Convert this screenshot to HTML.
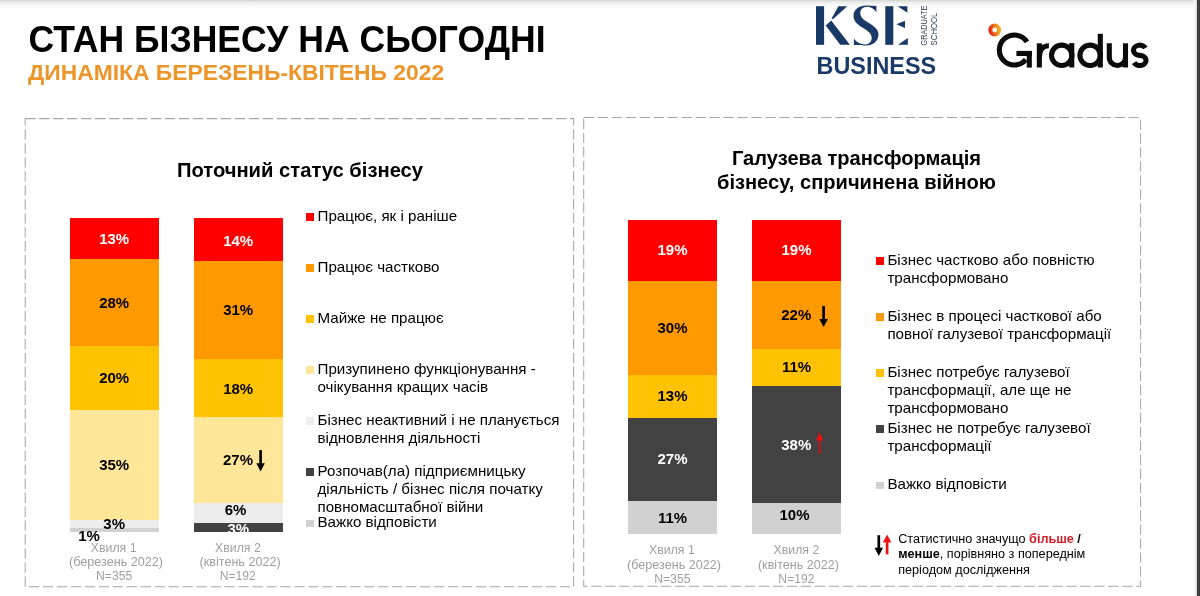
<!DOCTYPE html>
<html lang="uk"><head><meta charset="utf-8"><title>Стан бізнесу</title>
<style>
html,body{margin:0;padding:0;background:#fff}
body{width:1200px;height:596px;position:relative;overflow:hidden;font-family:"Liberation Sans", sans-serif}
#pg{position:absolute;left:0;top:0;width:1200px;height:596px;overflow:hidden;background:#fff;filter:blur(0.32px)}
.t{position:absolute;white-space:nowrap;margin:0;padding:0}
.r{position:absolute}
</style></head><body><div id="pg">
<div class="r" style="left:0;top:0;width:1200px;height:9px;background:linear-gradient(#d4d4d4 0,#e6e6e6 18%,#f3f3f3 40%,#fbfbfb 70%,#fff 100%)"></div>
<div class="r" style="left:1194px;top:0;width:3.4px;height:596px;background:linear-gradient(90deg,#fff,#d9d9d9)"></div>
<div class="r" style="left:1197.3px;top:0;width:2.7px;height:596px;background:#3b3f3f"></div>
<div class="t" style="left:28.50px;top:20px;font-size:35.55px;line-height:40px;font-weight:bold;color:#000;transform:scaleY(1.04);transform-origin:50% 32px;">СТАН БІЗНЕСУ НА СЬОГОДНІ</div>
<div class="t" style="left:28.00px;top:59px;font-size:22.85px;line-height:26px;font-weight:bold;color:#ec962a;">ДИНАМІКА БЕРЕЗЕНЬ-КВІТЕНЬ 2022</div>
<svg class="r" style="left:0;top:0" width="1200" height="596"><rect x="25.2" y="118.6" width="548.4" height="468.1" fill="none" stroke="#a6a6a6" stroke-width="1.05" stroke-dasharray="10.3 3.672"/></svg>
<svg class="r" style="left:0;top:0" width="1200" height="596"><rect x="583.7" y="117.4" width="556.8999999999999" height="468.9" fill="none" stroke="#a6a6a6" stroke-width="1.05" stroke-dasharray="10.3 3.672"/></svg>
<div class="t" style="left:0.00px;width:600px;text-align:center;top:159px;font-size:20.2px;line-height:22px;font-weight:bold;color:#000;">Поточний статус бізнесу</div>
<div class="r" style="left:70.00px;top:218.00px;width:88.60px;height:314.40px;background:#ff0000"></div>
<div class="r" style="left:70.00px;top:258.80px;width:88.60px;height:273.60px;background:#ff9900"></div>
<div class="r" style="left:70.00px;top:346.00px;width:88.60px;height:186.40px;background:#ffc304"></div>
<div class="r" style="left:70.00px;top:410.30px;width:88.60px;height:122.10px;background:#ffe699"></div>
<div class="r" style="left:70.00px;top:520.10px;width:88.60px;height:12.30px;background:#ededed"></div>
<div class="r" style="left:70.00px;top:528.20px;width:88.60px;height:4.20px;background:#d0d1d0"></div>
<div class="r" style="left:194.00px;top:218.00px;width:88.50px;height:314.00px;background:#ff0000"></div>
<div class="r" style="left:194.00px;top:260.70px;width:88.50px;height:271.30px;background:#ff9900"></div>
<div class="r" style="left:194.00px;top:358.50px;width:88.50px;height:173.50px;background:#ffc304"></div>
<div class="r" style="left:194.00px;top:416.60px;width:88.50px;height:115.40px;background:#ffe699"></div>
<div class="r" style="left:194.00px;top:503.00px;width:88.50px;height:29.00px;background:#ededed"></div>
<div class="r" style="left:194.00px;top:523.10px;width:88.50px;height:8.90px;background:#424242"></div>
<div class="t" style="left:-185.80px;width:600px;text-align:center;top:230px;font-size:15.0px;line-height:17px;font-weight:bold;color:#fff;">13%</div>
<div class="t" style="left:-185.80px;width:600px;text-align:center;top:294px;font-size:15.0px;line-height:17px;font-weight:bold;color:#000;">28%</div>
<div class="t" style="left:-185.80px;width:600px;text-align:center;top:369px;font-size:15.0px;line-height:17px;font-weight:bold;color:#000;">20%</div>
<div class="t" style="left:-185.80px;width:600px;text-align:center;top:456px;font-size:15.0px;line-height:17px;font-weight:bold;color:#000;">35%</div>
<div class="t" style="left:-185.80px;width:600px;text-align:center;top:515px;font-size:15.0px;line-height:17px;font-weight:bold;color:#000;">3%</div>
<div class="t" style="left:-211.00px;width:600px;text-align:center;top:527px;font-size:15.0px;line-height:17px;font-weight:bold;color:#000;">1%</div>
<div class="t" style="left:-61.80px;width:600px;text-align:center;top:232px;font-size:15.0px;line-height:17px;font-weight:bold;color:#fff;">14%</div>
<div class="t" style="left:-61.80px;width:600px;text-align:center;top:301px;font-size:15.0px;line-height:17px;font-weight:bold;color:#000;">31%</div>
<div class="t" style="left:-61.80px;width:600px;text-align:center;top:380px;font-size:15.0px;line-height:17px;font-weight:bold;color:#000;">18%</div>
<div class="t" style="left:-62.00px;width:600px;text-align:center;top:451px;font-size:15.0px;line-height:17px;font-weight:bold;color:#000;">27%</div>
<div class="t" style="left:-64.50px;width:600px;text-align:center;top:501px;font-size:15.0px;line-height:17px;font-weight:bold;color:#000;">6%</div>
<div class="r" style="left:194.0px;top:523.1px;width:88.5px;height:8.9px;overflow:hidden"><div class="t" style="left:0;width:88.5px;text-align:center;top:-3.10px;font-size:15.0px;line-height:17px;font-weight:bold;color:#fff">3%</div></div>
<svg class="r" style="left:0;top:0" width="1200" height="596"><path d="M259.25,450.1 H261.95000000000005 V463.8 H259.25 Z" fill="#000"/><path d="M264.90000000000003,463.3 L260.6,471.5 L256.3,463.3 Z" fill="#000"/></svg>
<div class="t" style="left:-186.30px;width:600px;text-align:center;top:541px;font-size:12.3px;line-height:14px;font-weight:normal;color:#9f9f9f;">Хвиля 1</div>
<div class="t" style="left:-184.00px;width:600px;text-align:center;top:555px;font-size:12.62px;line-height:14px;font-weight:normal;color:#9f9f9f;">(березень 2022)</div>
<div class="t" style="left:-185.90px;width:600px;text-align:center;top:569px;font-size:12.15px;line-height:14px;font-weight:normal;color:#9f9f9f;">N=355</div>
<div class="t" style="left:-62.10px;width:600px;text-align:center;top:541px;font-size:12.3px;line-height:14px;font-weight:normal;color:#9f9f9f;">Хвиля 2</div>
<div class="t" style="left:-59.90px;width:600px;text-align:center;top:555px;font-size:12.62px;line-height:14px;font-weight:normal;color:#9f9f9f;">(квітень 2022)</div>
<div class="t" style="left:-62.20px;width:600px;text-align:center;top:569px;font-size:12.15px;line-height:14px;font-weight:normal;color:#9f9f9f;">N=192</div>
<div class="r" style="left:306.30px;top:213.10px;width:8.00px;height:7.80px;background:#ff0000"></div>
<div class="t" style="left:317.50px;top:207px;font-size:15.15px;line-height:17px;font-weight:normal;color:#000;">Працює, як і раніше</div>
<div class="r" style="left:306.30px;top:264.20px;width:8.00px;height:7.80px;background:#ff9900"></div>
<div class="t" style="left:317.50px;top:258px;font-size:15.15px;line-height:17px;font-weight:normal;color:#000;">Працює частково</div>
<div class="r" style="left:306.30px;top:315.20px;width:8.00px;height:7.80px;background:#ffc304"></div>
<div class="t" style="left:317.50px;top:309px;font-size:15.15px;line-height:17px;font-weight:normal;color:#000;">Майже не працює</div>
<div class="r" style="left:306.30px;top:366.30px;width:8.00px;height:7.80px;background:#ffe699"></div>
<div class="t" style="left:317.50px;top:360px;font-size:15.15px;line-height:17px;font-weight:normal;color:#000;">Призупинено функціонування -</div>
<div class="t" style="left:317.50px;top:378px;font-size:15.15px;line-height:17px;font-weight:normal;color:#000;">очікування кращих часів</div>
<div class="r" style="left:306.30px;top:417.20px;width:8.00px;height:7.80px;background:#ededed"></div>
<div class="t" style="left:317.50px;top:411px;font-size:15.15px;line-height:17px;font-weight:normal;color:#000;">Бізнес неактивний і не планується</div>
<div class="t" style="left:317.50px;top:429px;font-size:15.15px;line-height:17px;font-weight:normal;color:#000;">відновлення діяльності</div>
<div class="r" style="left:306.30px;top:468.40px;width:8.00px;height:7.80px;background:#424242"></div>
<div class="t" style="left:317.50px;top:462px;font-size:15.15px;line-height:17px;font-weight:normal;color:#000;">Розпочав(ла) підприємницьку</div>
<div class="t" style="left:317.50px;top:480px;font-size:15.15px;line-height:17px;font-weight:normal;color:#000;">діяльність / бізнес після початку</div>
<div class="t" style="left:317.50px;top:498px;font-size:15.15px;line-height:17px;font-weight:normal;color:#000;">повномасштабної війни</div>
<div class="r" style="left:306.30px;top:519.50px;width:8.00px;height:7.80px;background:#d0d1d0"></div>
<div class="t" style="left:317.50px;top:513px;font-size:15.15px;line-height:17px;font-weight:normal;color:#000;">Важко відповісти</div>
<div class="t" style="left:556.50px;width:600px;text-align:center;top:147px;font-size:20.1px;line-height:22px;font-weight:bold;color:#000;">Галузева трансформація</div>
<div class="t" style="left:556.50px;width:600px;text-align:center;top:171px;font-size:20.1px;line-height:22px;font-weight:bold;color:#000;">бізнесу, спричинена війною</div>
<div class="r" style="left:628.10px;top:220.00px;width:88.80px;height:314.10px;background:#ff0000"></div>
<div class="r" style="left:628.10px;top:280.60px;width:88.80px;height:253.50px;background:#ff9900"></div>
<div class="r" style="left:628.10px;top:375.00px;width:88.80px;height:159.10px;background:#ffc304"></div>
<div class="r" style="left:628.10px;top:418.00px;width:88.80px;height:116.10px;background:#424242"></div>
<div class="r" style="left:628.10px;top:501.10px;width:88.80px;height:33.00px;background:#d0d1d0"></div>
<div class="r" style="left:752.10px;top:220.00px;width:88.80px;height:314.10px;background:#ff0000"></div>
<div class="r" style="left:752.10px;top:280.60px;width:88.80px;height:253.50px;background:#ff9900"></div>
<div class="r" style="left:752.10px;top:348.80px;width:88.80px;height:185.30px;background:#ffc304"></div>
<div class="r" style="left:752.10px;top:385.80px;width:88.80px;height:148.30px;background:#424242"></div>
<div class="r" style="left:752.10px;top:503.10px;width:88.80px;height:31.00px;background:#d0d1d0"></div>
<div class="t" style="left:372.50px;width:600px;text-align:center;top:241px;font-size:15.0px;line-height:17px;font-weight:bold;color:#fff;">19%</div>
<div class="t" style="left:372.50px;width:600px;text-align:center;top:319px;font-size:15.0px;line-height:17px;font-weight:bold;color:#000;">30%</div>
<div class="t" style="left:372.50px;width:600px;text-align:center;top:387px;font-size:15.0px;line-height:17px;font-weight:bold;color:#000;">13%</div>
<div class="t" style="left:372.50px;width:600px;text-align:center;top:450px;font-size:15.0px;line-height:17px;font-weight:bold;color:#fff;">27%</div>
<div class="t" style="left:372.50px;width:600px;text-align:center;top:509px;font-size:15.0px;line-height:17px;font-weight:bold;color:#000;">11%</div>
<div class="t" style="left:496.50px;width:600px;text-align:center;top:241px;font-size:15.0px;line-height:17px;font-weight:bold;color:#fff;">19%</div>
<div class="t" style="left:496.30px;width:600px;text-align:center;top:306px;font-size:15.0px;line-height:17px;font-weight:bold;color:#000;">22%</div>
<div class="t" style="left:496.50px;width:600px;text-align:center;top:358px;font-size:15.0px;line-height:17px;font-weight:bold;color:#000;">11%</div>
<div class="t" style="left:496.30px;width:600px;text-align:center;top:436px;font-size:15.0px;line-height:17px;font-weight:bold;color:#fff;">38%</div>
<div class="t" style="left:494.50px;width:600px;text-align:center;top:506px;font-size:15.0px;line-height:17px;font-weight:bold;color:#000;">10%</div>
<svg class="r" style="left:0;top:0" width="1200" height="596"><path d="M822.25,305.9 H824.95 V319.40000000000003 H822.25 Z" fill="#000"/><path d="M827.9,318.90000000000003 L823.6,327.1 L819.3000000000001,318.90000000000003 Z" fill="#000"/></svg>
<svg class="r" style="left:0;top:0" width="1200" height="596"><path d="M818.25,454.0 H820.95 V440.0 H818.25 Z" fill="#a62020"/><path d="M823.2,440.5 L819.6,432.3 L816.0,440.5 Z" fill="#f01010"/></svg>
<div class="t" style="left:371.90px;width:600px;text-align:center;top:543px;font-size:12.3px;line-height:14px;font-weight:normal;color:#9f9f9f;">Хвиля 1</div>
<div class="t" style="left:374.00px;width:600px;text-align:center;top:558px;font-size:12.62px;line-height:14px;font-weight:normal;color:#9f9f9f;">(березень 2022)</div>
<div class="t" style="left:372.40px;width:600px;text-align:center;top:572px;font-size:12.15px;line-height:14px;font-weight:normal;color:#9f9f9f;">N=355</div>
<div class="t" style="left:496.40px;width:600px;text-align:center;top:543px;font-size:12.3px;line-height:14px;font-weight:normal;color:#9f9f9f;">Хвиля 2</div>
<div class="t" style="left:498.50px;width:600px;text-align:center;top:558px;font-size:12.62px;line-height:14px;font-weight:normal;color:#9f9f9f;">(квітень 2022)</div>
<div class="t" style="left:496.40px;width:600px;text-align:center;top:572px;font-size:12.15px;line-height:14px;font-weight:normal;color:#9f9f9f;">N=192</div>
<div class="r" style="left:876.20px;top:257.10px;width:8.00px;height:7.80px;background:#ff0000"></div>
<div class="t" style="left:887.40px;top:251px;font-size:15.15px;line-height:17px;font-weight:normal;color:#000;">Бізнес частково або повністю</div>
<div class="t" style="left:887.40px;top:269px;font-size:15.15px;line-height:17px;font-weight:normal;color:#000;">трансформовано</div>
<div class="r" style="left:876.20px;top:313.20px;width:8.00px;height:7.80px;background:#ff9900"></div>
<div class="t" style="left:887.40px;top:307px;font-size:15.15px;line-height:17px;font-weight:normal;color:#000;">Бізнес в процесі часткової або</div>
<div class="t" style="left:887.40px;top:325px;font-size:15.15px;line-height:17px;font-weight:normal;color:#000;">повної галузевої трансформації</div>
<div class="r" style="left:876.20px;top:369.10px;width:8.00px;height:7.80px;background:#ffc304"></div>
<div class="t" style="left:887.40px;top:363px;font-size:15.15px;line-height:17px;font-weight:normal;color:#000;">Бізнес потребує галузевої</div>
<div class="t" style="left:887.40px;top:381px;font-size:15.15px;line-height:17px;font-weight:normal;color:#000;">трансформації, але ще не</div>
<div class="t" style="left:887.40px;top:399px;font-size:15.15px;line-height:17px;font-weight:normal;color:#000;">трансформовано</div>
<div class="r" style="left:876.20px;top:425.40px;width:8.00px;height:7.80px;background:#424242"></div>
<div class="t" style="left:887.40px;top:419px;font-size:15.15px;line-height:17px;font-weight:normal;color:#000;">Бізнес не потребує галузевої</div>
<div class="t" style="left:887.40px;top:437px;font-size:15.15px;line-height:17px;font-weight:normal;color:#000;">трансформації</div>
<div class="r" style="left:876.20px;top:481.60px;width:8.00px;height:7.80px;background:#d0d1d0"></div>
<div class="t" style="left:887.40px;top:475px;font-size:15.15px;line-height:17px;font-weight:normal;color:#000;">Важко відповісти</div>
<svg class="r" style="left:0;top:0" width="1200" height="596"><path d="M877.4499999999999,535.2 H880.15 V548.3 H877.4499999999999 Z" fill="#000"/><path d="M883.0999999999999,547.8 L878.8,556.0 L874.5,547.8 Z" fill="#000"/></svg>
<svg class="r" style="left:0;top:0" width="1200" height="596"><path d="M885.75,554.4 H888.45 V542.1 H885.75 Z" fill="#ee1111"/><path d="M891.4,542.6 L887.1,534.4 L882.8000000000001,542.6 Z" fill="#ee1111"/></svg>
<div class="t" style="left:898.20px;top:532px;font-size:12.65px;line-height:14px;font-weight:normal;color:#000;">Статистично значущо <b style="color:#cf2027">більше</b> <b>/</b></div>
<div class="t" style="left:898.20px;top:547px;font-size:12.65px;line-height:14px;font-weight:normal;color:#000;"><b>менше</b>, порівняно з попереднім</div>
<div class="t" style="left:898.20px;top:563px;font-size:12.65px;line-height:14px;font-weight:normal;color:#000;">періодом дослідження</div>
<svg class="r" style="left:0;top:0" width="1200" height="596">
<g fill="#193a67">
<rect x="816.0" y="6.2" width="8.1" height="38.6"/>
<path d="M838.4,6.2 L847.3,6.2 L832.9,19.3 L831.7,18.3 Z"/>
<path d="M825.7,25.5 L831.2,20.6 L849.9,44.8 L840.2,44.8 Z"/>
<path d="M876.4,5.9 L876.4,12.3 C874.5,9.0 871,6.7 867.0,6.7 C863.0,6.7 860.3,9.5 860.3,13.0 C860.3,17.5 864,20.0 868.5,22.8 C874,26.2 878.5,29.5 878.5,34.5 C878.5,41 873,45.5 866.0,45.5 C863.5,45.5 862.5,45.2 861.5,44.9 L853.9,44.9 L853.9,38.3 C855.5,41.5 859.5,44.4 865.5,44.4 C869,44.4 871.7,41.5 871.7,38.0 C871.7,33.5 868,31.0 863.5,28.2 C858,24.8 853.5,21.5 853.5,16.0 C853.5,9.5 859,5.6 866.5,5.6 L876.4,5.9 Z"/>
<rect x="885.3" y="6.2" width="8.0" height="38.6"/>
<path d="M897.6,6.2 L907.4,6.2 L907.4,12.7 Z"/>
<path d="M896.4,24.3 L905.0,20.8 L905.0,27.9 Z"/>
<path d="M898.0,44.8 L907.8,44.8 L907.8,38.1 Z"/>
</g>
<text x="816.6" y="74.0" font-family='"Liberation Sans", sans-serif' font-weight="bold" font-size="24.6" textLength="119.5" lengthAdjust="spacingAndGlyphs" fill="#193a67">BUSINESS</text>
<text transform="translate(927.1,45.4) rotate(-90)" font-family='"Liberation Sans", sans-serif' font-size="9.2" textLength="39.8" lengthAdjust="spacingAndGlyphs" fill="#34415a">GRADUATE</text>
<text transform="translate(936.8,45.4) rotate(-90)" font-family='"Liberation Sans", sans-serif' font-size="9.2" textLength="32.8" lengthAdjust="spacingAndGlyphs" fill="#34415a">SCHOOL</text>
<defs><linearGradient id="gr" x1="0" y1="0.6" x2="1" y2="0.4"><stop offset="0" stop-color="#ea2a16"/><stop offset="0.5" stop-color="#e8701c"/><stop offset="1" stop-color="#ecae20"/></linearGradient></defs>
<circle cx="994.7" cy="30.0" r="4.4" fill="none" stroke="url(#gr)" stroke-width="4.0"/>
<g fill="none" stroke="#0b0b0b" stroke-width="5.1">
<path d="M1026.93,41.83 A15 15 0 1 0 1025.84,59.64"/>
<path d="M1016.4,53.45 H1031.85"/>
<path d="M1029.3,51 V67.6"/>
<path d="M1039.35,43.3 V67.5"/>
<path d="M1039.35,57.5 C1039.35,49.5 1043,45.7 1048.9,45.7"/>
<circle cx="1061.7" cy="55.35" r="10.2"/>
<path d="M1071.75,43.1 V67.5"/>
<circle cx="1090.1" cy="55.35" r="10.2"/>
<path d="M1100.3,33.8 V67.5"/>
<path d="M1109.3,43.3 V57.4 A8.1 8.1 0 0 0 1125.5,57.4"/>
<path d="M1125.5,43.3 V67.5"/>
<path d="M1145.41,48.09 A6.25 5.1 0 1 0 1139.75,55.35 A6.25 5.1 0 1 1 1134.09,62.61"/>
</g>
</svg>
</div></body></html>
